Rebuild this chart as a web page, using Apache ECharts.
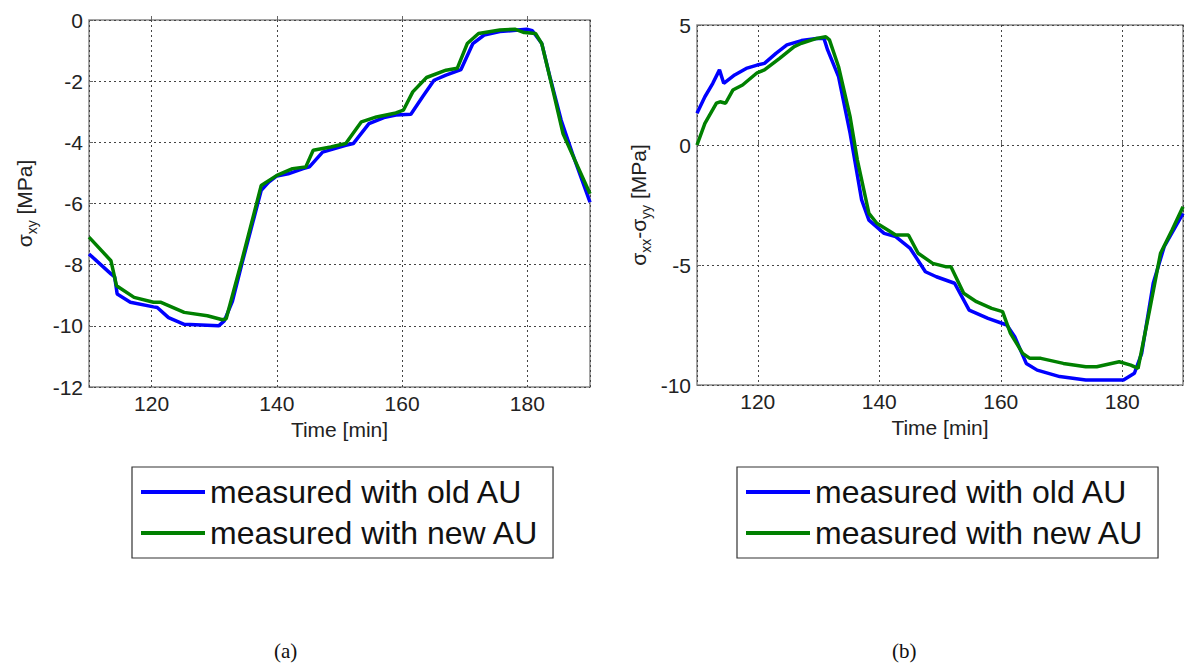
<!DOCTYPE html>
<html>
<head>
<meta charset="utf-8">
<script src="https://cdn.jsdelivr.net/npm/echarts@6/dist/echarts.min.js"></script>
<style>
html,body{margin:0;padding:0;background:#fff;}
#c{width:1186px;height:668px;}
</style>
</head>
<body>
<div id="c"></div>
<script>
// ---- data (a): sigma_xy ----
const timeOldA = [110,113.5,114.1,114.5,116.6,120.3,120.9,122.7,125.2,130.7,131.6,132.9,134.4,137.5,138.7,140,141.8,144.2,145.2,147.3,151,152.2,154.7,157.1,159,161.4,163.3,165.1,167,169.4,171.3,173.1,175.6,179.9,180.8,182.3,183.6,185.4,187.2,190];
const valOldA  = [-7.65,-8.3,-8.4,-8.96,-9.23,-9.38,-9.4,-9.73,-9.95,-10.0,-9.84,-9.2,-7.98,-5.57,-5.3,-5.1,-5.03,-4.86,-4.8,-4.32,-4.1,-4.04,-3.39,-3.19,-3.11,-3.08,-2.5,-1.97,-1.8,-1.62,-0.77,-0.49,-0.38,-0.3,-0.35,-0.77,-1.86,-3.28,-4.37,-5.96];
const timeNewA = [110,113.5,114.4,117.2,120.3,121.5,125.2,128.9,131.3,131.9,134.4,137.5,140,142.5,144.6,145.8,148.6,151,153.5,155.9,159,160.2,161.7,163.9,167,168.8,170.4,172.2,175.6,178,179.5,181.3,182.3,184.2,185.7,187.6,190];
const valNewA  = [-7.1,-7.87,-8.69,-9.07,-9.23,-9.23,-9.56,-9.67,-9.8,-9.77,-7.87,-5.41,-5.08,-4.86,-4.81,-4.26,-4.15,-4.04,-3.33,-3.17,-3.04,-2.95,-2.35,-1.88,-1.64,-1.58,-0.77,-0.44,-0.33,-0.3,-0.41,-0.44,-0.77,-2.4,-3.72,-4.59,-5.68];

// ---- data (b): sigma_xx - sigma_yy ----
const timeOldB = [110,111.3,112.6,113.7,114.4,116.2,118.1,119.9,121.1,123,124.8,127.2,129.7,130.9,131.5,133.3,135.2,137.1,138.3,140.8,142.7,145.1,147.6,149.4,152.4,154.8,157.9,161,162.3,164.2,166,169.7,174,180.2,182,183.2,185.1,186.9,190];
const valOldB  = [1.32,2.01,2.57,3.13,2.57,2.92,3.19,3.33,3.4,3.82,4.17,4.35,4.44,4.44,3.96,2.85,0.49,-2.29,-3.13,-3.68,-3.82,-4.31,-5.28,-5.49,-5.76,-6.88,-7.22,-7.5,-7.99,-9.1,-9.38,-9.65,-9.79,-9.79,-9.51,-8.68,-5.76,-4.24,-2.85];
const timeNewB = [110,111.3,113.2,113.8,114.7,115.9,117.5,119.9,121.1,123.6,126,127.2,129.7,131.2,131.8,133.3,135.2,136.4,138.3,139.6,141.4,142.7,144.8,146.4,148.8,150.9,151.8,153.9,156,158.5,160.3,161.6,163.6,164.8,166.6,170.3,174,175.8,179.5,181.4,182.6,184.5,186.3,188.2,190];
const valNewB  = [0,0.9,1.74,1.8,1.74,2.29,2.5,3.01,3.13,3.61,4.1,4.24,4.44,4.51,4.38,3.26,1.18,-0.63,-2.85,-3.26,-3.54,-3.75,-3.75,-4.51,-4.93,-5.07,-5.07,-6.18,-6.53,-6.81,-6.94,-7.85,-8.68,-8.89,-8.89,-9.1,-9.24,-9.24,-9.03,-9.17,-9.31,-6.88,-4.51,-3.54,-2.57];

const seriesNames = ['measured with old AU','measured with new AU'];
const seriesColors = ['#0000ff','#008000'];
const xTitle = 'Time [min]';
const captions = ['(a)','(b)'];

const pair = (t, v) => t.map((x, i) => [x, v[i]]);
const FONT = 'Liberation Sans, Arial, sans-serif';

function xAx(gi){
  return {
    type:'value', gridIndex:gi, min:110, max:190, splitNumber:4,
    name:xTitle, nameLocation:'middle', nameGap:29,
    nameTextStyle:{fontFamily:FONT,fontSize:21,color:'#222'},
    axisLine:{show:false},
    axisTick:{show:true,inside:true,length:4,lineStyle:{color:'#666'}},
    axisLabel:{showMinLabel:false,showMaxLabel:false,margin:6,fontFamily:FONT,fontSize:21,color:'#222'},
    splitLine:{show:true,lineStyle:{color:'#444',type:[2,3],width:1}}
  };
}
function yAx(gi,min,max,interval,name,gap){
  return {
    type:'value', gridIndex:gi, min:min, max:max, interval:interval,
    name:name, nameLocation:'middle', nameGap:gap, nameRotate:90,
    nameTextStyle:{fontFamily:FONT,fontSize:21,color:'#222',
      rich:{
        m:{fontFamily:FONT,fontSize:21,color:'#222',lineHeight:30,verticalAlign:'middle'},
        s:{fontFamily:FONT,fontSize:14,color:'#222',lineHeight:30,verticalAlign:'bottom'}
      }},
    axisLine:{show:false},
    axisTick:{show:true,inside:true,length:4,lineStyle:{color:'#666'}},
    axisLabel:{margin:6,fontFamily:FONT,fontSize:21,color:'#222'},
    splitLine:{show:true,lineStyle:{color:'#444',type:[2,3],width:1}}
  };
}
function line(name,color,data,xi,yi){
  return {type:'line',name:name,data:data,xAxisIndex:xi,yAxisIndex:yi,
    showSymbol:false,symbol:'none',lineStyle:{color:color,width:3.5},itemStyle:{color:color},
    animation:false,z:3};
}
function legend(left){
  return {
    data:seriesNames, orient:'vertical', left:left, top:467,
    itemWidth:64, itemHeight:4, icon:'rect', itemGap:9,
    padding:[9,14,9,9],
    borderColor:'#333', borderWidth:1.2, backgroundColor:'#fff',
    textStyle:{fontFamily:FONT,fontSize:32,color:'#111'},
    selectedMode:false
  };
}

const chart = echarts.init(document.getElementById('c'), null, {renderer:'svg'});
chart.setOption({
  animation:false,
  backgroundColor:'#fff',
  grid:[
    {left:89, top:20, width:501, height:367, show:true, borderColor:'#888', borderWidth:1.5, backgroundColor:'transparent'},
    {left:697, top:25, width:486, height:360, show:true, borderColor:'#888', borderWidth:1.5, backgroundColor:'transparent'}
  ],
  xAxis:[xAx(0), xAx(1)],
  yAxis:[
    yAx(0,-12,0,2,'{m|σ}{s|xy}{m| [MPa]}',50),
    yAx(1,-10,5,5,'{m|σ}{s|xx}{m|-σ}{s|yy}{m| [MPa]}',44)
  ],
  legend:[legend(132), legend(737)],
  series:[
    line(seriesNames[0],seriesColors[0],pair(timeOldA,valOldA),0,0),
    line(seriesNames[1],seriesColors[1],pair(timeNewA,valNewA),0,0),
    line(seriesNames[0],seriesColors[0],pair(timeOldB,valOldB),1,1),
    line(seriesNames[1],seriesColors[1],pair(timeNewB,valNewB),1,1)
  ],
  graphic:[
    {type:'text',left:274,top:640,style:{text:captions[0],font:'21px "Liberation Serif", "DejaVu Serif", serif',fill:'#111'}},
    {type:'text',left:892,top:640,style:{text:captions[1],font:'21px "Liberation Serif", "DejaVu Serif", serif',fill:'#111'}}
  ]
});
</script>
</body>
</html>
